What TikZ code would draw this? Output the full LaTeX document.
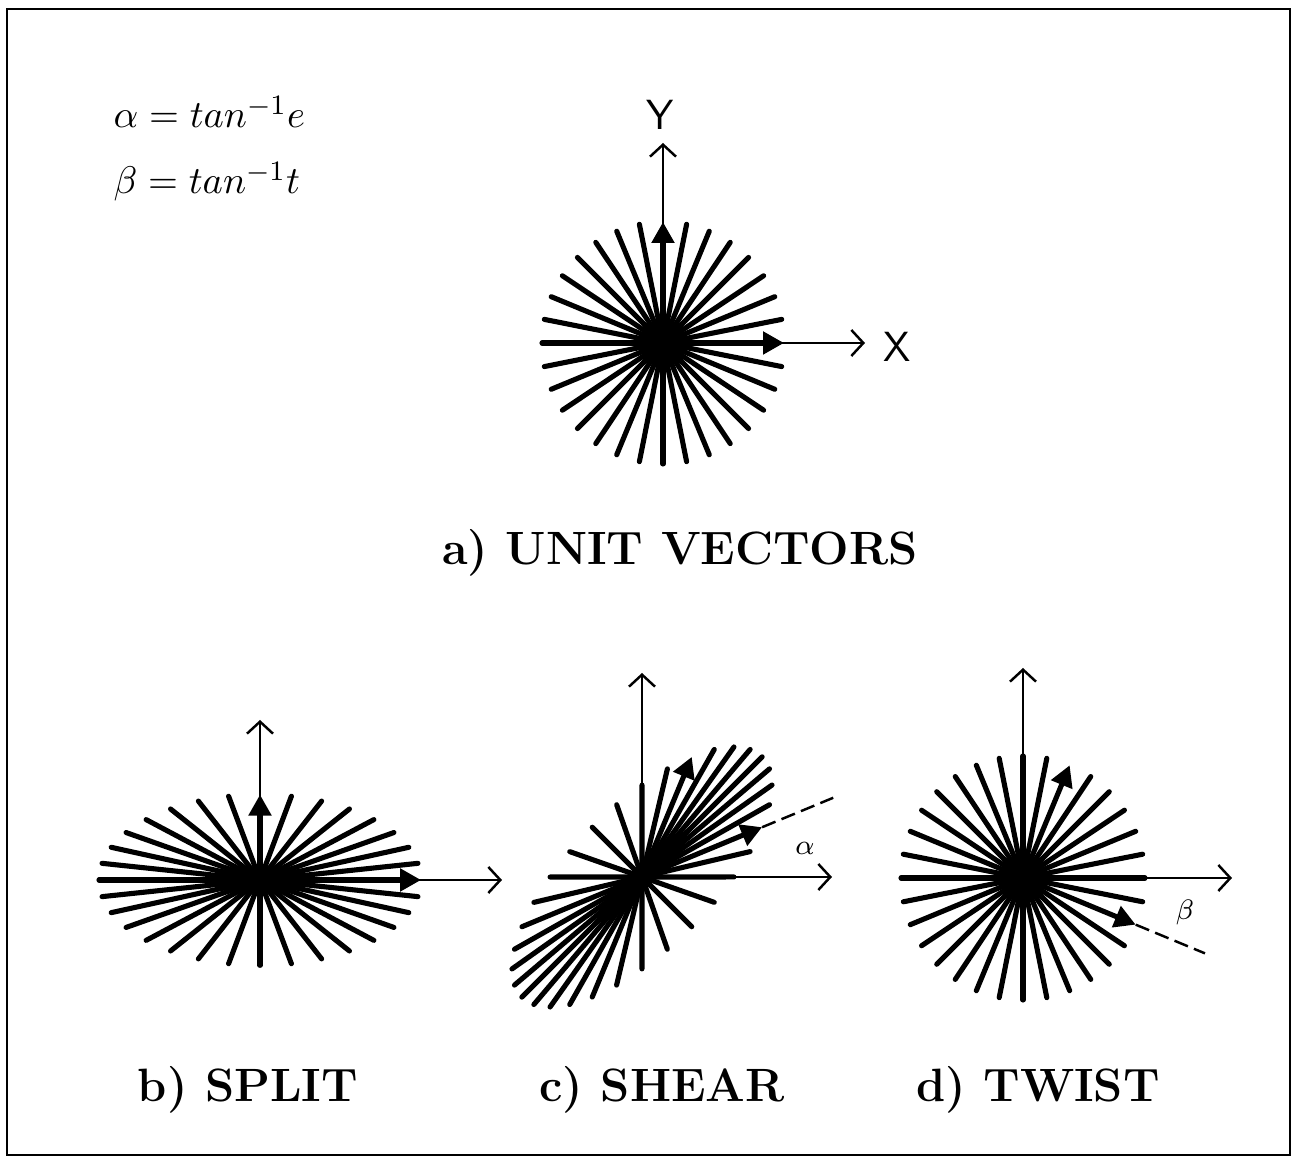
\documentclass[tikz,border=0pt]{standalone}
\usepackage{amsmath,amssymb}
\usepackage{tikz}
\usetikzlibrary{arrows.meta,positioning,calc}

\begin{document}
\begin{tikzpicture}[x=0.1mm,y=0.1mm,>={Straight Barb[length=1.2mm,width=2.6mm]},
  every node/.style={inner sep=0pt},
  ray/.style={line width=1.45pt,line cap=round},
  axis/.style={line width=0.7pt,->},
  vec/.style={line width=1.45pt,-{Triangle[length=2.1mm,width=2.2mm]}},
  guide/.style={line width=0.7pt,dash pattern=on 1.45mm off 0.65mm},
  title/.style={font=\fontsize{13.3}{16}\selectfont\bfseries,anchor=base},
  axlab/.style={font=\sffamily\fontsize{12}{14}\selectfont},
  anglab/.style={font=\fontsize{8}{10}\selectfont}]
\useasboundingbox (0,0) rectangle (1297,1160);
\draw[line width=0.8pt] (7,5) rectangle (1290,1151);

% definitions
\node[anchor=base west,font=\fontsize{11}{13}\selectfont] (defa) at (113,1032) {$\alpha = tan^{-1}e$};
\node[anchor=base west,font=\fontsize{11}{13}\selectfont] (defb) at (113,966) {$\beta = tan^{-1}t$};

% a) unit vectors
\coordinate (ua) at (663,817);
\coordinate (uax) at (865,817);
\coordinate (uay) at (663,1017);
\draw[axis] (ua) -- (uax);
\draw[axis] (ua) -- (uay);
\foreach \t in {0,...,31}{
  \ifnum\t=0 \else\ifnum\t=8 \else
    \draw[ray] (ua) -- ++({\t*11.25}:121);
  \fi\fi}
\draw[vec] (ua) -- ++(0:121);
\draw[vec] (ua) -- ++(90:121);
\fill (ua) circle[radius=20];
\node[axlab] (ylab) at (660,1045) {Y};
\node[axlab] (xlab) at (897,813) {X};
\node[title] (tla) at (680,595) {a) UNIT VECTORS};

% b) split
\coordinate (sp) at (260,280);
\coordinate (spx) at (502,280);
\coordinate (spy) at (260,440);
\draw[axis] (sp) -- (spx);
\draw[axis] (sp) -- (spy);
\begin{scope}[shift={(sp)},xscale=1.32,yscale=0.7]
  \foreach \t in {0,...,31}{
    \ifnum\t=0 \else\ifnum\t=8 \else
      \draw[ray] (0,0) -- ({\t*11.25}:122);
    \fi\fi}
  \draw[vec] (0,0) -- (0:122);
  \draw[vec] (0,0) -- (90:122);
  \fill (0,0) circle[radius=20];
\end{scope}
\node[title] (tlb) at (248,58) {b) SPLIT};

% c) shear
\coordinate (sh) at (642,283);
\coordinate (shx) at (832,283);
\coordinate (shy) at (642,487);
\draw[axis] (sh) -- (shx);
\draw[axis] (sh) -- (shy);
\begin{scope}[cm={0.924,0.383,0.383,0.924,(sh)}]
  \foreach \t in {0,...,31}{
    \ifnum\t=0 \else\ifnum\t=8 \else
      \draw[ray] (0,0) -- ({\t*11.25}:130);
    \fi\fi}
  \draw[vec] (0,0) -- (0:130);
  \draw[vec] (0,0) -- (90:130);
  \fill (0,0) circle[radius=20];
\end{scope}
\coordinate (sha) at ($(sh)+(22.5:130)$);
\coordinate (shb) at ($(sh)+(22.5:207)$);
\draw[guide] (sha) -- (shb);
\node[anglab] (alab) at (805,312) {$\alpha$};
\node[title] (tlc) at (662,58) {c) SHEAR};

% d) twist
\coordinate (tw) at (1023,282);
\coordinate (twx) at (1232,282);
\coordinate (twy) at (1023,492);
\draw[axis] (tw) -- (twx);
\draw[axis] (tw) -- (twy);
\foreach \t in {0,...,31}{
  \ifnum\t=6 \else\ifnum\t=30 \else
    \draw[ray] (tw) -- ++({\t*11.25}:122);
  \fi\fi}
\draw[vec] (tw) -- ++(-22.5:122);
\draw[vec] (tw) -- ++(67.5:122);
\fill (tw) circle[radius=20];
\coordinate (twa) at ($(tw)+(-22.5:122)$);
\coordinate (twb) at ($(tw)+(-22.5:197)$);
\draw[guide] (twa) -- (twb);
\node[anglab] (blab) at (1185,248) {$\beta$};
\node[title] (tld) at (1038,58) {d) TWIST};
\end{tikzpicture}
\end{document}
